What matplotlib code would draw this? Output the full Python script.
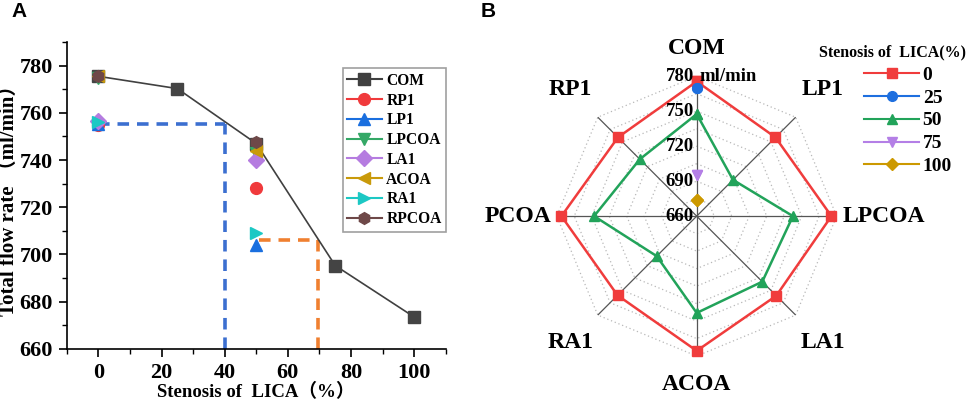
import numpy as np
import matplotlib
matplotlib.use('Agg')
import matplotlib.pyplot as plt
from matplotlib.lines import Line2D

plt.rcParams['font.family'] = ['Liberation Serif', 'Noto Sans CJK SC']
plt.rcParams['font.weight'] = 'bold'

# ---- panel A data ----
stenosis = [0, 25, 50, 75, 100]
com_flow = [775.5, 770.3, 747.0, 695.3, 673.5]

branch_x = [0, 50]
branch_names = ['RP1', 'LP1', 'LPCOA', 'LA1', 'ACOA', 'RA1', 'RPCOA']
branch_flow = {
    'RP1':   [755.0, 728.0],
    'LP1':   [755.5, 704.0],
    'LPCOA': [775.0, 743.0],
    'LA1':   [756.5, 740.0],
    'ACOA':  [775.5, 744.0],
    'RA1':   [756.0, 709.0],
    'RPCOA': [775.5, 747.5],
}
# guide lines (x_start, x_end, y level)
blue_guide = (0, 40, 755.5)
orange_guide = (51, 69.5, 706.0)

# ---- panel B data ----
radar_cats = ['COM', 'LP1', 'LPCOA', 'LA1', 'ACOA', 'RA1', 'PCOA', 'RP1']
radar_levels = ['0', '25', '50', '75', '100']
radar_0 = [775.5, 755.5, 775.5, 756.5, 775.5, 756.0, 776.0, 755.5]
radar_25 = [770.3, np.nan, np.nan, np.nan, np.nan, np.nan, np.nan, np.nan]
radar_50 = [747.5, 704.0, 742.5, 739.5, 743.0, 708.5, 748.0, 729.0]
radar_75 = [695.3, np.nan, np.nan, np.nan, np.nan, np.nan, np.nan, np.nan]
radar_100 = [673.5, np.nan, np.nan, np.nan, np.nan, np.nan, np.nan, np.nan]
radar_ticks = [660, 690, 720, 750, 780]
radar_rings = [675, 690, 705, 720, 735, 750, 765, 780]

fig = plt.figure(figsize=(9.69, 4.01), dpi=100)

# ================= A =================
ax = fig.add_axes([0.069, 0.130, 0.391, 0.765])
styles = {
    'COM':   ('#404040', 's'),
    'RP1':   ('#f03a3c', 'o'),
    'LP1':   ('#1a6fdf', '^'),
    'LPCOA': ('#34a866', 'v'),
    'LA1':   ('#b57ce0', 'D'),
    'ACOA':  ('#c99a0a', '<'),
    'RA1':   ('#1cc8c4', '>'),
    'RPCOA': ('#6e4848', 'h'),
}
dash = (0, (3.2, 2.2))
ax.plot([blue_guide[0], blue_guide[1]], [blue_guide[2]] * 2, color='#3c6fd0', lw=2.6, ls=dash, zorder=1)
ax.plot([blue_guide[1], blue_guide[1]], [660, blue_guide[2]], color='#3c6fd0', lw=2.6, ls=dash, zorder=1)
ax.plot([orange_guide[0], orange_guide[1]], [orange_guide[2]] * 2, color='#f08030', lw=2.6, ls=dash, zorder=1)
ax.plot([orange_guide[1], orange_guide[1]], [660, orange_guide[2]], color='#f08030', lw=2.6, ls=dash, zorder=1)

ax.plot(stenosis, com_flow, color='#404040', lw=1.2, marker='s', ms=8, mfc='#444444', mec='#444444', zorder=3)
handles = [Line2D([], [], color='#404040', lw=1.5, marker='s', ms=8, label='COM')]
for name in branch_names:
    c, m = styles[name]
    ax.plot(branch_x, branch_flow[name], ls='none', marker=m, ms=8.5, color=c, zorder=4)
    handles.append(Line2D([], [], color=c, lw=1.5, marker=m, ms=8.5, label=name))

ax.set_xlim(-10, 110)
ax.set_ylim(660, 790)
ax.set_xticks([0, 20, 40, 60, 80, 100])
ax.set_xticks(np.arange(-10, 111, 10), minor=True)
ax.set_yticks([660, 680, 700, 720, 740, 760, 780])
ax.set_yticks(np.arange(660, 791, 10), minor=True)
ax.tick_params(which='major', direction='out', length=6, width=1.2, labelsize=16, pad=4)
ax.tick_params(which='minor', direction='out', length=3.5, width=1.0)
for s in ['top', 'right']:
    ax.spines[s].set_visible(False)
for s in ['left', 'bottom']:
    ax.spines[s].set_linewidth(1.2)
ax.set_ylabel('Total flow rate （ml/min）', fontsize=15, fontweight='bold')
ax.yaxis.set_label_coords(-0.126, 0.5)
ax.set_xlabel('Stenosis of  LICA（%）', fontsize=13.5, fontweight='bold')
ax.xaxis.set_label_coords(0.5, -0.112)
leg = ax.legend(handles=handles, loc='upper left', bbox_to_anchor=(0.728, 0.915), fontsize=11.2,
                frameon=True, fancybox=False, edgecolor='#888888', handlelength=2.2,
                labelspacing=0.24, borderpad=0.3, handletextpad=0.3, borderaxespad=0)
leg.get_frame().set_linewidth(1.2)

# ================= B =================
rax = fig.add_axes([0.5745, 0.112, 0.289, 0.698], projection='polar')
rax.set_theta_zero_location('N')
rax.set_theta_direction(-1)
theta = np.linspace(0, 2 * np.pi, len(radar_cats), endpoint=False)
theta_c = np.append(theta, theta[0])
rax.set_ylim(660, 780)
rax.grid(False)
rax.set_xticks([])
rax.set_yticks([])
rax.spines['polar'].set_visible(False)

for r in radar_rings:
    rax.plot(theta_c, [r] * len(theta_c), color='#b8b8b8', lw=0.9, ls=(0, (1, 2.2)), zorder=1)
for t in theta:
    rax.plot([t, t], [660, 780], color='#555555', lw=0.9, zorder=2)

series = [
    (radar_0, '#f03c3c', 's'),
    (radar_25, '#1e6fdf', 'o'),
    (radar_50, '#22a35a', '^'),
    (radar_75, '#b47fe6', 'v'),
    (radar_100, '#cc9900', 'D'),
]
rhandles = []
for (vals, c, m), lab in zip(series, radar_levels):
    v = np.append(vals, vals[0])
    ms = 7 if m != 'D' else 6
    rax.plot(theta_c, v, color=c, lw=1.8, marker=m, ms=ms, zorder=5, clip_on=False)
    rhandles.append(Line2D([], [], color=c, lw=1.5, marker=m, ms=ms, label=lab))

for val in radar_ticks:
    rax.annotate(str(val), xy=(0, val), xytext=(-2, 0), textcoords='offset points',
                 ha='right', va='center', fontsize=13.5, fontweight='bold', zorder=6)
rax.annotate('ml/min', xy=(0, 780), xytext=(2, 0), textcoords='offset points',
             ha='left', va='center', fontsize=13.5, fontweight='bold', zorder=6)

label_r = {'COM': 804, 'ACOA': 804, 'LPCOA': 785, 'PCOA': 785}
for t, cat in zip(theta, radar_cats):
    if cat in ('LPCOA',):
        ha = 'left'
    elif cat in ('PCOA',):
        ha = 'right'
    else:
        ha = 'center'
    rax.text(t, label_r.get(cat, 813), cat, ha=ha, va='center', fontsize=17,
             fontweight='bold', clip_on=False)

fig.text(0.921, 0.870, 'Stenosis of  LICA(%)', ha='center', va='center', fontsize=11.5, fontweight='bold')
fig.legend(handles=rhandles, loc='upper left', bbox_to_anchor=(0.892, 0.835), fontsize=14,
           frameon=False, handlelength=2.8, labelspacing=0.27, handletextpad=0.2,
           borderpad=0.0, borderaxespad=0.0)

fig.text(0.012, 0.995, 'A', family='Liberation Sans', fontsize=15, fontweight='bold', va='top')
fig.text(0.496, 0.995, 'B', family='Liberation Sans', fontsize=15, fontweight='bold', va='top')

fig.savefig('out.png', dpi=100)
